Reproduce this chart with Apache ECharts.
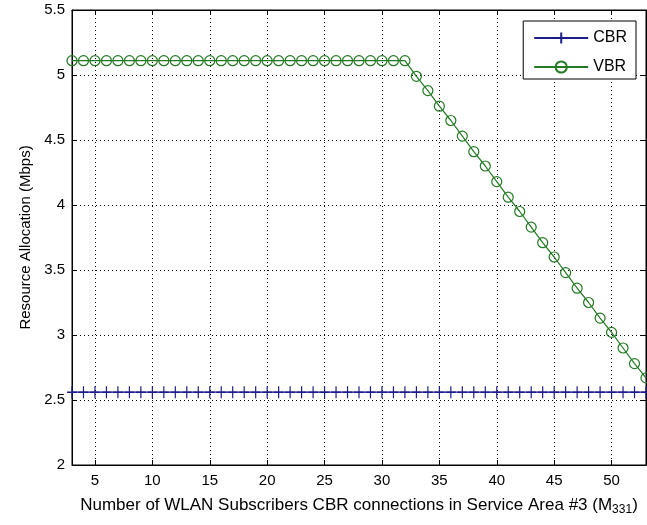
<!DOCTYPE html>
<html>
<head>
<meta charset="utf-8">
<script src="https://cdn.jsdelivr.net/npm/echarts@6/dist/echarts.min.js"></script>
<style>html,body{margin:0;padding:0;background:#fff;}#c{width:647px;height:525px;}</style>
</head>
<body>
<div id="c"></div>
<script>
var xValues = [3,4,5,6,7,8,9,10,11,12,13,14,15,16,17,18,19,20,21,22,23,24,25,26,27,28,29,30,31,32,33,34,35,36,37,38,39,40,41,42,43,44,45,46,47,48,49,50,51,52,53];
var cbrValues = [2.56,2.56,2.56,2.56,2.56,2.56,2.56,2.56,2.56,2.56,2.56,2.56,2.56,2.56,2.56,2.56,2.56,2.56,2.56,2.56,2.56,2.56,2.56,2.56,2.56,2.56,2.56,2.56,2.56,2.56,2.56,2.56,2.56,2.56,2.56,2.56,2.56,2.56,2.56,2.56,2.56,2.56,2.56,2.56,2.56,2.56,2.56,2.56,2.56,2.56,2.56];
var vbrValues = [5.11,5.11,5.11,5.11,5.11,5.11,5.11,5.11,5.11,5.11,5.11,5.11,5.11,5.11,5.11,5.11,5.11,5.11,5.11,5.11,5.11,5.11,5.11,5.11,5.11,5.11,5.11,5.11,5.11,5.11,4.99,4.88,4.76,4.65,4.53,4.41,4.30,4.18,4.06,3.95,3.83,3.71,3.60,3.48,3.36,3.25,3.13,3.02,2.90,2.78,2.67];
var xTicks = [5,10,15,20,25,30,35,40,45,50];
var yTicks = [2,2.5,3,3.5,4,4.5,5,5.5];

function pairs(ys){ return xValues.map(function(x,i){ return [x, ys[i]]; }); }

var font = '"Liberation Sans", Arial, sans-serif';
var chart = echarts.init(document.getElementById('c'), null, {renderer:'canvas'});
var tickCommon = {show:true, inside:true, length:5, lineStyle:{color:'#000', width:1}};
var gridLine = {show:true, lineStyle:{color:'#000', type:[1,3], width:1}};
chart.setOption({
  animation:false,
  backgroundColor:'#fff',
  grid:{left:72, top:10, right:1, bottom:60, show:true, borderColor:'#000', borderWidth:1, containLabel:false},
  legend:{
    right:11, top:21, orient:'vertical', backgroundColor:'#fff', borderColor:'#000', borderWidth:1,
    padding:[9,9,4,10], itemGap:13, itemWidth:54, itemHeight:14,
    textStyle:{fontFamily:font, fontSize:16, color:'#000'},
    data:['CBR','VBR']
  },
  xAxis:[{
    type:'value', min:3, max:53,
    axisLine:{show:true, lineStyle:{color:'#000'}},
    axisTick:Object.assign({customValues:xTicks}, tickCommon),
    axisLabel:{customValues:xTicks, fontFamily:font, fontSize:15, color:'#000', margin:8},
    splitLine:gridLine,
    name:'{a|Number of WLAN Subscribers CBR connections in Service Area #3 (M}{s|331}{a|)}',
    nameLocation:'middle', nameGap:30,
    nameTextStyle:{rich:{a:{fontFamily:font, fontSize:17, color:'#000'}, s:{fontFamily:font, fontSize:12, color:'#000', verticalAlign:'bottom', padding:[9,0,0,0]}}}
  },{
    type:'value', min:3, max:53, position:'top',
    axisLine:{show:true, lineStyle:{color:'#000'}},
    axisTick:Object.assign({customValues:xTicks}, tickCommon),
    axisLabel:{show:false, customValues:xTicks},
    splitLine:{show:false}
  }],
  yAxis:[{
    type:'value', min:2, max:5.5, interval:0.5,
    axisLine:{show:true, lineStyle:{color:'#000'}},
    axisTick:tickCommon,
    axisLabel:{fontFamily:font, fontSize:15, color:'#000', margin:7, formatter:function(v){return String(v);}},
    splitLine:gridLine,
    name:'Resource Allocation (Mbps)', nameLocation:'middle', nameGap:39,
    nameTextStyle:{fontFamily:font, fontSize:15, color:'#000'}
  },{
    type:'value', min:2, max:5.5, interval:0.5, position:'right',
    axisLine:{show:true, lineStyle:{color:'#000'}},
    axisTick:tickCommon,
    axisLabel:{show:false},
    splitLine:{show:false}
  }],
  series:[{
    name:'CBR', type:'line', data:pairs(cbrValues),
    symbol:'path://M0,-6L0,6M-5,0L5,0', symbolSize:[10,12], showAllSymbol:true,
    lineStyle:{color:'#1c1c8c', width:1.3},
    itemStyle:{color:'#1c1c8c', borderColor:'#1c1c8c', borderWidth:1.3}
  },{
    name:'VBR', type:'line', data:pairs(vbrValues),
    symbol:'circle', symbolSize:10, showAllSymbol:true,
    lineStyle:{color:'#237a23', width:1.2},
    itemStyle:{color:'rgba(0,0,0,0)', borderColor:'#237a23', borderWidth:1.2}
  }]
});
</script>
</body>
</html>
